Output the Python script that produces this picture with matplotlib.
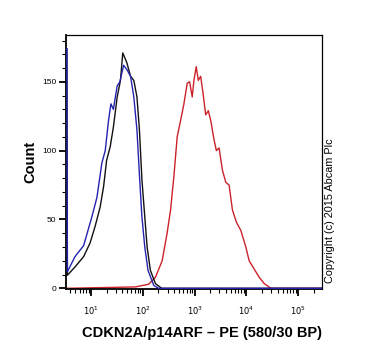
import matplotlib
matplotlib.use("Agg")
import matplotlib.pyplot as plt
from matplotlib.ticker import LogLocator, FixedLocator, MultipleLocator, NullFormatter

plt.rcParams['font.family'] = ['Liberation Sans', 'DejaVu Sans']

# Isotype / unstained controls (black, blue) and CDKN2A stained (red)
black_x = [3.42, 3.5, 4.9, 7.2, 9.6, 12, 15, 17.5, 20, 23.5, 27, 32, 37, 41, 49, 58, 67, 77, 86, 96, 109, 121, 140, 175, 232, 290000]
black_y = [174, 9.5, 15.5, 23, 33, 45, 59, 74, 93, 103, 117, 139, 151, 171, 164, 154, 151, 139, 115, 79, 52, 30, 13, 3.4, 0, 0]

blue_x = [3.42, 3.5, 4.9, 7.2, 10.4, 13, 16.2, 18.8, 21.8, 24.2, 27, 32, 36, 42.6, 49, 58, 67, 77, 87, 96, 109, 126, 163, 203, 290000]
blue_y = [174, 12, 23, 31, 52, 66, 91, 100, 122, 134, 130, 147, 150, 162, 159, 154, 139, 115, 79, 52, 30, 13, 2, 0, 0]

red_x = [3.3, 72, 130, 175, 236, 294, 343, 397, 460, 536, 621, 719, 800, 898, 968, 1074, 1175, 1306, 1448,
         1634, 1835, 2042, 2366, 2624, 2958, 3428, 3990, 4624, 5358, 6402, 7787, 9727, 11270, 14090, 17620,
         22030, 29720, 290000]
red_y = [0, 1, 3, 8, 20, 40, 57, 81, 110, 122, 134, 149, 150, 139, 151, 161, 151, 154, 142, 126, 129, 122,
         108, 100, 102, 86, 77, 75, 57, 48, 42, 30, 20, 14, 8, 3.4, 0, 0]

y_major = [0, 50, 100, 150]
x_major = [10, 100, 1000, 10000, 100000]
x_major_labels = [r'$10^1$', r'$10^2$', r'$10^3$', r'$10^4$', r'$10^5$']

fig = plt.figure(figsize=(3.70, 3.58), dpi=100)
ax = fig.add_axes([66/370, 1-289/358, (322-66)/370, (289-35)/358])

ax.plot(red_x, red_y, color='#cc2229', lw=1.0, zorder=2)
ax.plot(black_x, black_y, color='#111111', lw=1.0, zorder=3)
ax.plot(blue_x, blue_y, color='#2323b0', lw=1.0, zorder=4)

ax.set_xscale('log')
ax.set_xlim(3.29, 2.87e5)
ax.set_ylim(-0.5, 184)

ax.xaxis.set_major_locator(FixedLocator(x_major))
ax.set_xticklabels(x_major_labels)
ax.xaxis.set_minor_locator(LogLocator(base=10, subs=range(2, 10), numticks=20))
ax.xaxis.set_minor_formatter(NullFormatter())
ax.yaxis.set_major_locator(FixedLocator(y_major))
ax.yaxis.set_minor_locator(MultipleLocator(10))

ax.tick_params(axis='both', which='major', direction='out', length=5, width=1.3, labelsize=6, pad=2)
ax.tick_params(axis='both', which='minor', direction='out', length=3, width=0.8)
ax.tick_params(axis='x', which='major', pad=6)

for s in ['top', 'right']:
    ax.spines[s].set_linewidth(0.9)
for s in ['left', 'bottom']:
    ax.spines[s].set_linewidth(1.3)

fig.text(202/370, 1-333/358, 'CDKN2A/p14ARF \u2013 PE (580/30 BP)', ha='center', va='center',
         fontsize=10.5, fontweight='bold')
fig.text(30/370, 1-162/358, 'Count', ha='center', va='center', rotation=90,
         fontsize=10.5, fontweight='bold')
fig.text(330/370, 1-211/358, 'Copyright (c) 2015 Abcam Plc', ha='center', va='center', rotation=90,
         fontsize=7.8)

fig.savefig('out.png', dpi=100)
